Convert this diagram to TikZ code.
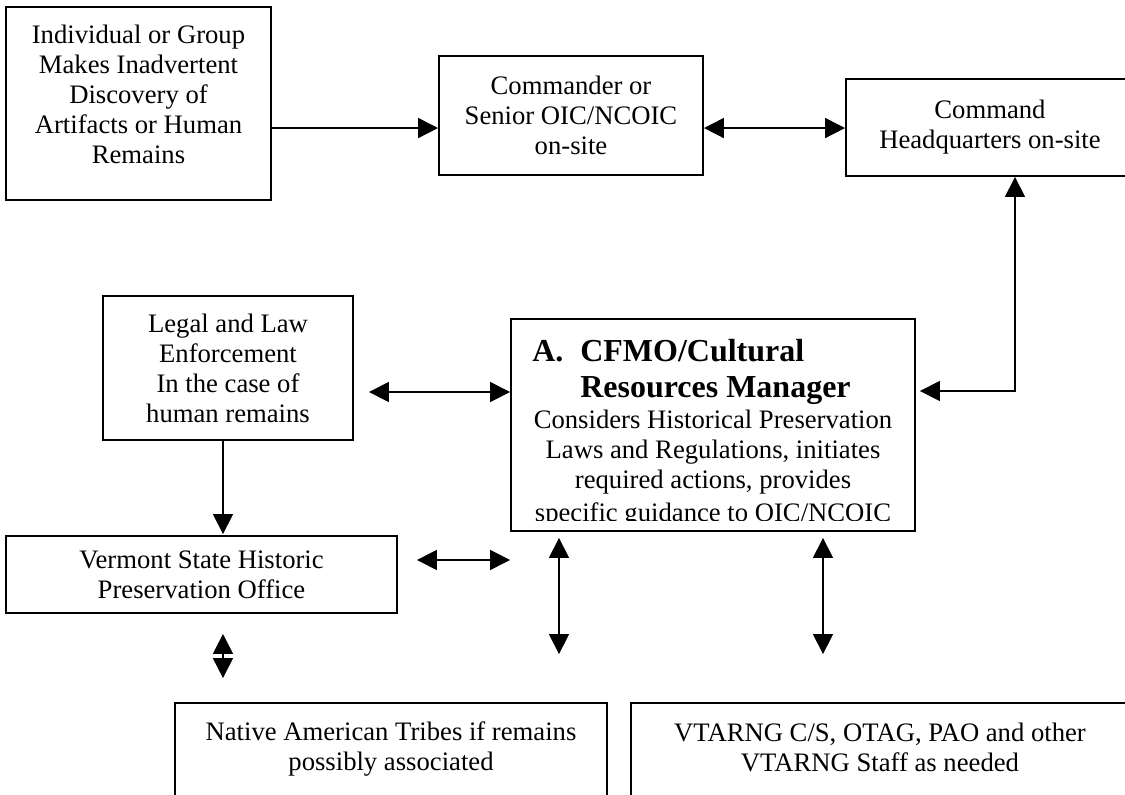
\documentclass[tikz,border=0pt]{standalone}
\usepackage{fontspec}
\setmainfont{Liberation Serif}
\usetikzlibrary{arrows.meta}
\tikzset{
  box/.style={draw, line width=1.4pt, inner sep=0pt, align=center, font=\fontsize{20}{22.5}\selectfont},
  txt/.style={inner sep=0pt, align=center, font=\fontsize{20}{22.5}\selectfont},
  ttl/.style={inner sep=0pt, anchor=base west, font=\bfseries\fontsize{24}{27.75}\selectfont},
  bodyline/.style={inner sep=0pt, anchor=base, font=\fontsize{20}{22.5}\selectfont},
  arr/.style={line width=1.2pt, -{Triangle[length=15pt,width=15pt]}},
  darr/.style={line width=1.2pt, {Triangle[length=15pt,width=15pt]}-{Triangle[length=15pt,width=15pt]}}
}
\begin{document}
\begin{tikzpicture}[x=0.75pt,y=-0.75pt]
\useasboundingbox (0,0) rectangle (1125,794);

% boxes
\node[box, minimum width=198.75pt, minimum height=144.75pt] (ind) at (138.5,103.5) {};
\node[txt] (indt) at (138.5,94) {Individual or Group\\Makes Inadvertent\\Discovery of\\Artifacts or Human\\Remains};

\node[box, minimum width=198pt, minimum height=89.25pt] (cmd) at (571,115.5) {Commander or\\Senior OIC/NCOIC\\on-site};

\node[box, minimum width=216pt, minimum height=72.75pt] (hq) at (990,127.5) {Command\\Headquarters on-site};

\node[box, minimum width=187.5pt, minimum height=108pt] (legal) at (228,368) {Legal and Law\\Enforcement\\In the case of\\human remains};

\node[box, minimum width=293.25pt, minimum height=57.75pt] (vso) at (201.5,574.5) {Vermont State Historic\\Preservation Office};

\node[box, minimum width=303pt, minimum height=159pt] (cfmo) at (713,425) {};
\node[ttl] (cfa) at (532,361) {A.};
\node[ttl] (cfb) at (580,361) {CFMO/Cultural};
\node[ttl] (cfc) at (580,397) {Resources Manager};
\begin{scope}
  \clip (511,319) rectangle (915,520);
  \node[bodyline] (cf1) at (713,428) {Considers Historical Preservation};
  \node[bodyline] (cf2) at (713,458) {Laws and Regulations, initiates};
  \node[bodyline] (cf3) at (713,488) {required actions, provides};
  \node[bodyline] (cf4) at (713,521) {specific guidance to OIC/NCOIC};
\end{scope}

\node[box, minimum width=324pt, minimum height=95.25pt] (nat) at (391,766.5) {};
\node[txt] (natt) at (391,749) {Native American Tribes if remains\\possibly associated};

\node[box, minimum width=373.5pt, minimum height=95.25pt] (vt) at (880,766.5) {};
\node[txt] (vtt) at (880,747) {VTARNG C/S, OTAG, PAO and other\\VTARNG Staff as needed};

% connectors
\draw[arr] ([yshift=-18.4pt]ind.east) -- ([yshift=-18.4pt]ind.east -| cmd.west);
\draw[darr] ([yshift=-9.4pt]cmd.east) -- ([yshift=-9.4pt]cmd.east -| hq.west);
\draw[darr] ([xshift=18.75pt]hq.south) |- ([xshift=3pt,yshift=25.5pt]cfmo.east);
\draw[darr] ([xshift=11.25pt,yshift=-18pt]legal.east) -- ([yshift=-18pt]legal.east -| cfmo.west);
\draw[arr] ([xshift=-3.75pt]legal.south) -- ([xshift=-3.75pt,yshift=0.75pt]legal.south |- vso.north);
\draw[darr] ([xshift=14.25pt,yshift=10.9pt]vso.east) -- ([yshift=10.9pt]vso.east -| cfmo.west);
\draw[darr] ([xshift=16.1pt,yshift=-15pt]vso.south) -- ([xshift=16.1pt,yshift=18pt]vso.south |- nat.north);
\draw[darr] ([xshift=-115.5pt,yshift=-4.5pt]cfmo.south) -- ([xshift=-115.5pt,yshift=36pt]cfmo.south |- nat.north);
\draw[darr] ([xshift=82.5pt,yshift=-4.5pt]cfmo.south) -- ([xshift=82.5pt,yshift=36pt]cfmo.south |- vt.north);
\end{tikzpicture}
\end{document}
